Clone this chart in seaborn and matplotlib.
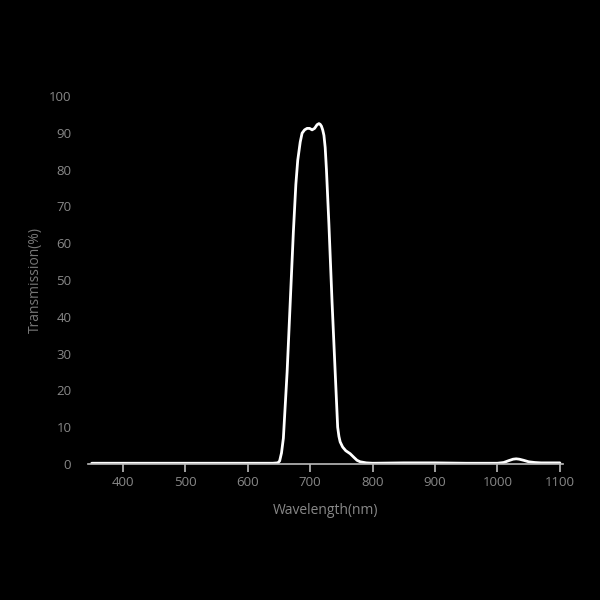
import matplotlib
matplotlib.use("Agg")
import matplotlib.pyplot as plt
import seaborn as sns
import pandas as pd

wavelength = [350, 400, 500, 600, 640, 648, 651, 654, 657, 663, 668, 673, 677, 680, 684,
              687, 691, 695, 699, 703, 707, 711, 714, 716, 718, 720, 722, 724, 726, 730, 735,
              740, 744, 746, 748, 752, 757, 764, 770, 775, 780, 790, 800, 850, 900,
              950, 1000, 1010, 1018, 1025, 1030, 1035, 1042, 1050, 1060, 1070, 1080, 1090, 1100]
transmission = [0.2, 0.2, 0.2, 0.2, 0.2, 0.3, 0.8, 3, 7, 25, 44, 63, 76, 82.5, 87.5,
                89.9, 90.8, 91.2, 91.2, 90.8, 91.2, 92.2, 92.5, 92.3, 91.8, 90.8, 89.3, 86, 80, 65, 44,
                25, 10, 7.5, 6, 4.6, 3.6, 2.8, 1.8, 1.0, 0.6, 0.3, 0.2, 0.3, 0.3,
                0.2, 0.2, 0.4, 0.9, 1.3, 1.4, 1.3, 1.0, 0.6, 0.4, 0.3, 0.3, 0.3, 0.3]
x_ticks = [400, 500, 600, 700, 800, 900, 1000, 1100]
y_ticks = [0, 10, 20, 30, 40, 50, 60, 70, 80, 90, 100]

df = pd.DataFrame({"Wavelength": wavelength, "Transmission": transmission})

sns.set_style("dark")
plt.rcParams["font.family"] = ["Open Sans", "DejaVu Sans"]

fig = plt.figure(figsize=(6, 6), dpi=100, facecolor="black")
ax = fig.add_axes([0.1467, 0.2267, 0.7916, 0.6133])
ax.set_facecolor("black")

sns.lineplot(data=df, x="Wavelength", y="Transmission", ax=ax, color="white", linewidth=2)

ax.set_xlim(344, 1105)
ax.set_ylim(0, 100)
ax.set_xticks(x_ticks)
ax.set_yticks(y_ticks)
ax.grid(False)
for s in ["top", "right", "left"]:
    ax.spines[s].set_visible(False)
ax.spines["bottom"].set_color("#bbbbbb")
ax.spines["bottom"].set_linewidth(1.2)
ax.tick_params(axis="x", colors="#888888", length=6, width=1.2, direction="out",
               labelsize=9.5, pad=3, bottom=True)
ax.tick_params(axis="x", color="#bbbbbb")
ax.tick_params(axis="y", colors="#888888", length=0, labelsize=9.5, pad=12, left=False)
ax.set_xlabel("Wavelength(nm)", color="#888888", fontsize=10, labelpad=10)
ax.set_ylabel("Transmission(%)", color="#777777", fontsize=10, labelpad=4)

fig.savefig("out.png", dpi=100, facecolor="black")
